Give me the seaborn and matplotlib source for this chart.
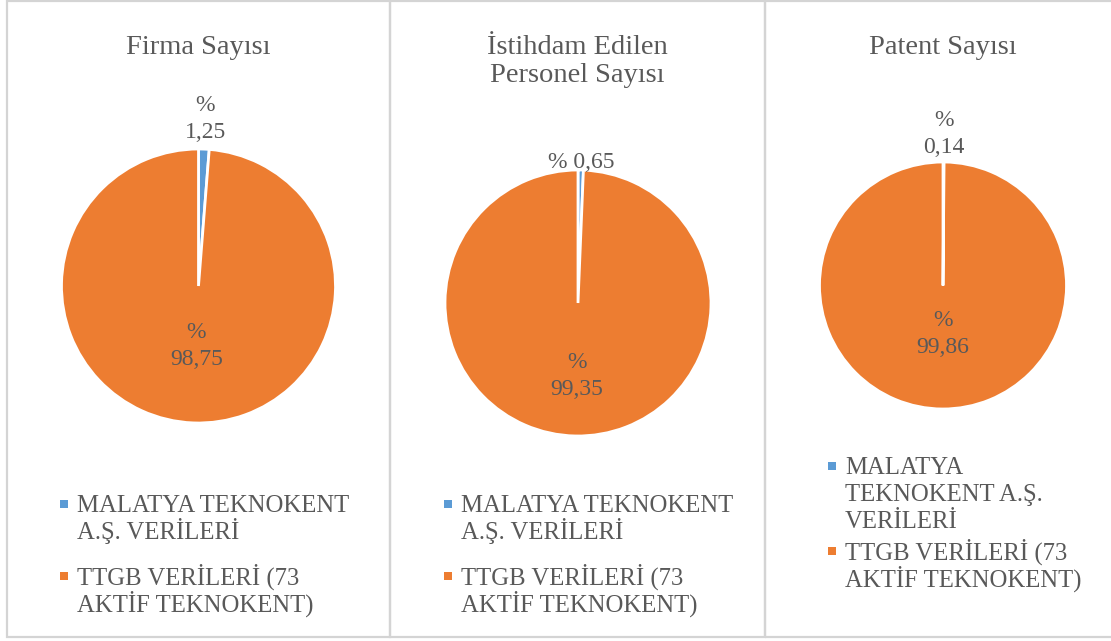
"""
Malatya Teknokent vs TTGB - three pie charts side by side
"""

import matplotlib

matplotlib.use("Agg")
import matplotlib.pyplot as plt
import numpy as np
import seaborn as sns
from matplotlib.patches import Rectangle

# data
titles = ["Firma Sayısı", "İstihdam Edilen\nPersonel Sayısı", "Patent Sayısı"]
malatya_share = [1.25, 0.65, 0.14]
ttgb_share = [98.75, 99.35, 99.86]
series_names = ["MALATYA TEKNOKENT A.Ş. VERİLERİ", "TTGB VERİLERİ (73 AKTİF TEKNOKENT)"]
legend_wrapped = [
    ["MALATYA TEKNOKENT\nA.Ş. VERİLERİ", "TTGB VERİLERİ (73\nAKTİF TEKNOKENT)"],
    ["MALATYA TEKNOKENT\nA.Ş. VERİLERİ", "TTGB VERİLERİ (73\nAKTİF TEKNOKENT)"],
    ["MALATYA\nTEKNOKENT A.Ş.\nVERİLERİ", "TTGB VERİLERİ (73\nAKTİF TEKNOKENT)"],
]

sns.set_theme(style="white")
plt.rcParams["font.family"] = ["Liberation Serif", "DejaVu Serif"]

W, H = 1111, 641
TEXT = "#595959"
colors = ["#5B9BD5", "#ED7D31"]
CAP = 0.33  # half cap height, in em

fig = plt.figure(figsize=(W / 100, H / 100), dpi=100)

# layout in pixels (from top-left)
panels = [(7, 390), (390, 765), (765, 1120)]
pie_geo = [(198.5, 286, 137), (578, 303, 133), (943, 285.5, 123.5)]
title_y = [45, 59, 45]
# label distances (relative to radius) for small / large slice
small_dist = [1.237, 1.075, 1.247]
large_dist = [0.42, 0.53, 0.377]
small_label_fmt = ["%\n{}", "% {}", "%\n{}"]
legend_x = [64, 448, 832]
legend_rows = [[504, 576], [504, 576], [466, 551]]
line_px = 27


def fx(x):
    return x / W


def fy(y):
    return 1 - y / H


def fmt(v):
    return f"{v:.2f}".replace(".", ",")


def put_lines(x, y_mid, text, size, ha, spacing):
    """one fig.text per line so that every line sits on its own baseline"""
    lines = text.split("\n")
    px = size * 100 / 72
    for k, line in enumerate(lines):
        yc = y_mid + (k - (len(lines) - 1) / 2) * spacing
        fig.text(fx(x), fy(yc + CAP * px), line, ha=ha, va="baseline",
                 fontsize=size, color=TEXT)


for i in range(3):
    x0, x1 = panels[i]
    fig.add_artist(Rectangle((fx(x0), fy(637)), fx(x1 - x0), (637 - 1) / H,
                             transform=fig.transFigure, fill=False,
                             edgecolor="#D4D4D4", linewidth=1.6))

    cx, cy, r = pie_geo[i]
    ax = fig.add_axes([fx(cx - r), fy(cy + r), 2 * r / W, 2 * r / H])
    vals = [malatya_share[i], ttgb_share[i]]
    wedges, _ = ax.pie(vals, colors=colors, startangle=90, counterclock=False,
                       radius=1, wedgeprops=dict(edgecolor="white", linewidth=2))
    ax.set_xlim(-1, 1)
    ax.set_ylim(-1, 1)
    ax.set_aspect("equal")
    ax.axis("off")

    # data labels, anchored at the slice's mid angle
    for j, w in enumerate(wedges):
        ang = np.deg2rad((w.theta1 + w.theta2) / 2)
        d = small_dist[i] if j == 0 else large_dist[i]
        txt = small_label_fmt[i].format(fmt(vals[j])) if j == 0 else "%\n" + fmt(vals[j])
        lines = txt.split("\n")
        for k, line in enumerate(lines):
            off = -(k - (len(lines) - 1) / 2) * 27 - CAP * 17 * 100 / 72
            ax.annotate(line, (d * np.cos(ang), d * np.sin(ang)),
                        xytext=(0, off), textcoords="offset pixels",
                        ha="center", va="baseline", fontsize=17, color=TEXT,
                        annotation_clip=False)

    put_lines((x0 + x1) / 2 if i < 2 else cx, title_y[i], titles[i], 20.5, "center", 28)

    # legend
    for j in range(2):
        y_first = legend_rows[i][j]
        n_lines = legend_wrapped[i][j].count("\n") + 1
        fig.add_artist(Rectangle((fx(legend_x[i] - 4), fy(y_first + 4)), 8 / W, 8 / H,
                                 transform=fig.transFigure, facecolor=colors[j],
                                 edgecolor="none"))
        y_mid = y_first + (n_lines - 1) * line_px / 2
        put_lines(legend_x[i] + 13, y_mid, legend_wrapped[i][j], 17.8, "left", line_px)

fig.savefig("out.png", dpi=100, facecolor="white")
